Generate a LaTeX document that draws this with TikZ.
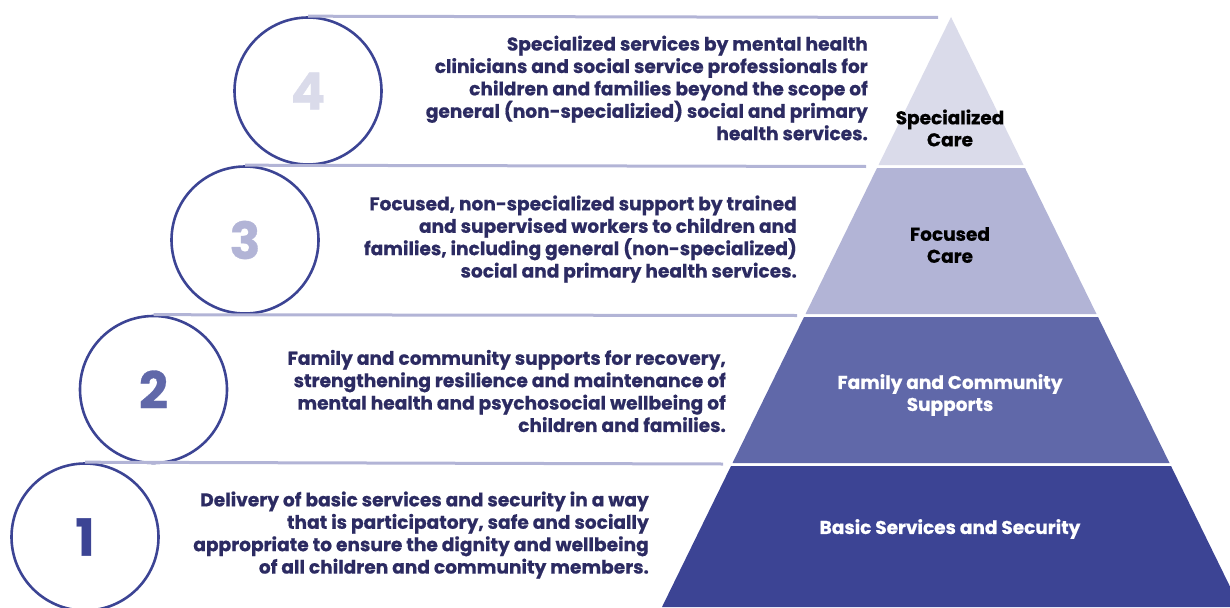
\documentclass[tikz,border=0pt]{standalone}
\usepackage{fontspec}
\setmainfont{Poppins}[BoldFeatures={FakeBold=0.6}]
\definecolor{navy}{HTML}{2C2B62}
\definecolor{ring}{HTML}{3C4494}
\definecolor{tierA}{HTML}{DADBEA}
\definecolor{tierB}{HTML}{B2B4D6}
\definecolor{tierC}{HTML}{6068A9}
\definecolor{tierD}{HTML}{3C4494}
\definecolor{rule}{HTML}{B2B4D6}
\tikzset{
  desc/.style={anchor=east, align=right, text=navy, inner sep=0pt,
    font=\bfseries\fontsize{18.6}{22.4}\selectfont},
  tierlabel/.style={align=center, inner sep=0pt,
    font=\bfseries\fontsize{18.5}{22}\selectfont},
  numring/.style={circle, draw=ring, line width=2.6pt, minimum size=147pt,
    inner sep=0pt, font=\bfseries\fontsize{51}{51}\selectfont},
  hrule/.style={draw=rule, line width=3pt},
}
\begin{document}
\begin{tikzpicture}[x=1pt, y=-1pt]
\useasboundingbox (0,0) rectangle (1230,607);
\clip (0,0) rectangle (1230,607);
% pyramid tiers
\fill[tierA] (951,17) -- (1023.5,165) -- (878.5,165) -- cycle;
\fill[tierB] (877,168) -- (1025,168) -- (1096.5,314) -- (805.5,314) -- cycle;
\fill[tierC] (804,317) -- (1098,317) -- (1169.5,463) -- (732.5,463) -- cycle;
\fill[tierD] (731,466) -- (1171,466) -- (1240,607) -- (662,607) -- cycle;
% tier labels
\node[tierlabel, text=black] (l4) at (950,128) {Specialized\\Care};
\node[tierlabel, text=black] (l3) at (950,245) {Focused\\Care};
\node[tierlabel, text=white] (l2) at (950,395) {Family and Community\\Supports};
\node[tierlabel, text=white] (l1) at (950,529) {Basic Services and Security};
% circles
\node[numring, text=tierA] (c4) at (308,91) {4};
\node[numring, text=tierB] (c3) at (245,240) {3};
\node[numring, text=tierC] (c2) at (153.5,389.5) {2};
\node[numring, text=tierD] (c1) at (85,537) {1};
% rules
\coordinate (e4) at (938,17.5);
\coordinate (e3) at (866,166.5);
\coordinate (e2) at (797,315.5);
\coordinate (e1) at (723,464);
\draw[hrule] (c4.north) -- (e4);
\draw[hrule] (c3.north) -- (e3);
\draw[hrule] (c2.north) -- (e2);
\draw[hrule] (c1.north) -- (e1);
% descriptions
\node[desc] (t4) at (868,88) {Specialized services by mental health\\clinicians and social service professionals for\\children and families beyond the scope of\\general (non-specializied) social and primary\\health services.};
\node[desc] (t3) at (797,239) {Focused, non-specialized support by trained\\and supervised workers to children and\\families, including general (non-specialized)\\social and primary health services.};
\node[desc] (t2) at (726,391) {Family and community supports for recovery,\\strengthening resilience and maintenance of\\mental health and psychosocial wellbeing of\\children and families.};
\node[desc] (t1) at (649,535) {Delivery of basic services and security in a way\\that is participatory, safe and socially\\appropriate to ensure the dignity and wellbeing\\of all children and community members.};
\end{tikzpicture}
\end{document}
